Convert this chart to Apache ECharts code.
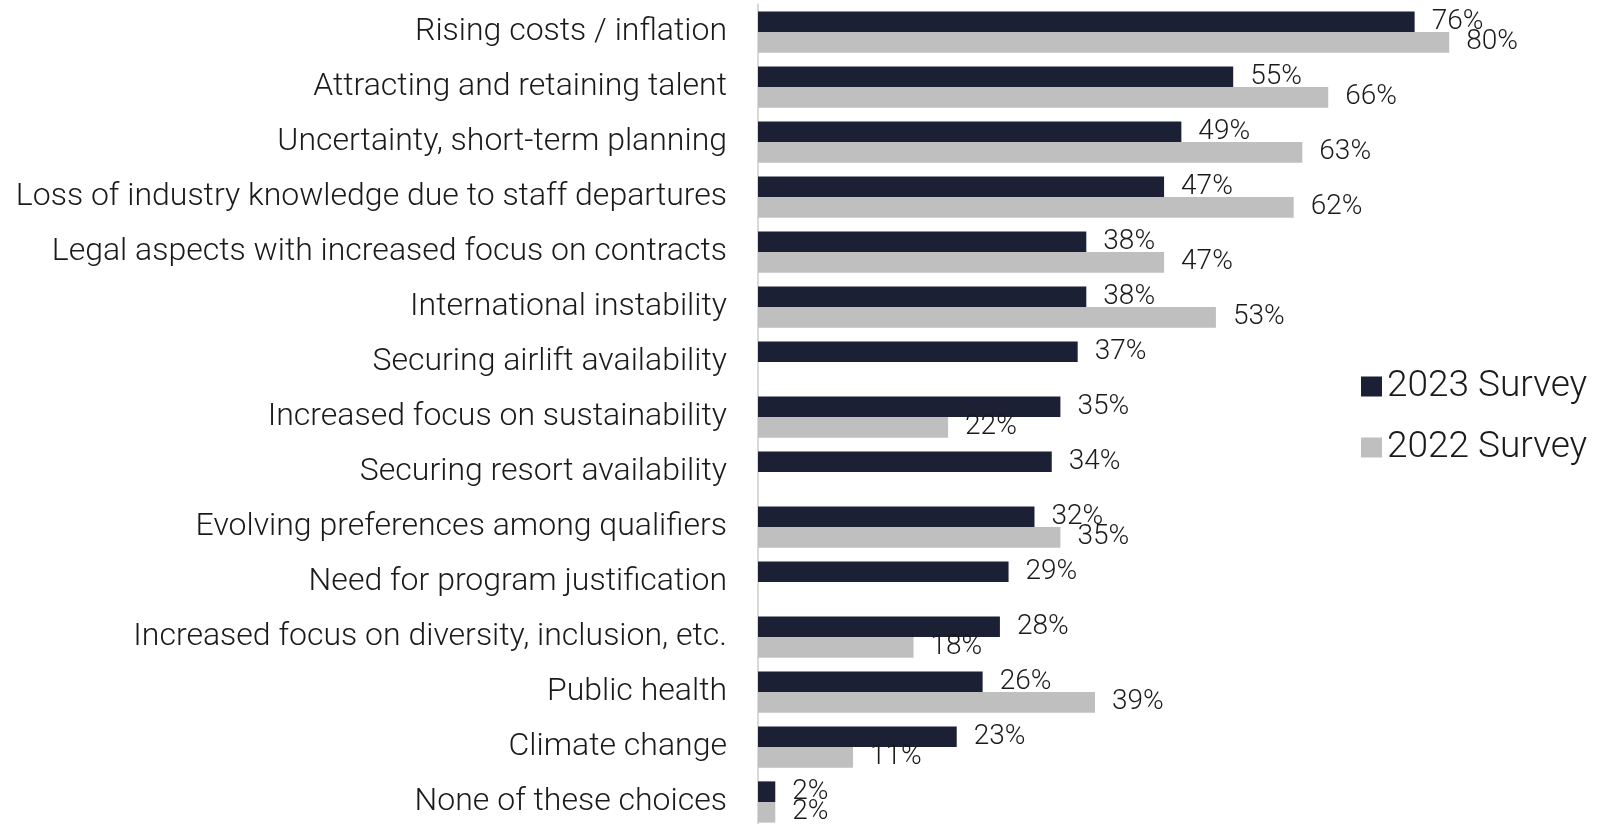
<!DOCTYPE html>
<html>
<head>
<meta charset="utf-8">
<script src="https://cdn.jsdelivr.net/npm/echarts@6/dist/echarts.min.js"></script>
<style>
  html, body { margin: 0; padding: 0; background: #fff; }
  #chart { width: 1615px; height: 824px; }
</style>
</head>
<body>
<div id="chart"></div>
<script>
// survey answers, top to bottom
var categories = [
  'Rising costs / inflation',
  'Attracting and retaining talent',
  'Uncertainty, short-term planning',
  'Loss of industry knowledge due to staff departures',
  'Legal aspects with increased focus on contracts',
  'International instability',
  'Securing airlift availability',
  'Increased focus on sustainability',
  'Securing resort availability',
  'Evolving preferences among qualifiers',
  'Need for program justification',
  'Increased focus on diversity, inclusion, etc.',
  'Public health',
  'Climate change',
  'None of these choices'
];
var survey2023 = [76, 55, 49, 47, 38, 38, 37, 35, 34, 32, 29, 28, 26, 23, 2];
var survey2022 = [80, 66, 63, 62, 47, 53, null, 22, null, 35, null, 18, 39, 11, 2];

var seriesNames = ['2023 Survey', '2022 Survey'];
var colors = ['#1b2034', '#bfbfbf'];

var FONT = 'Roboto';
var TEXT_COLOR = '#1a1a1a';

var chart = echarts.init(document.getElementById('chart'), null, { renderer: 'canvas' });

function makeSeries(name, data, color) {
  return {
    name: name,
    type: 'bar',
    data: data,
    barGap: '0%',
    barCategoryGap: '25%',
    itemStyle: { color: color },
    label: {
      show: true,
      position: 'right',
      distance: 17,
      formatter: function (p) { return p.value == null ? '' : p.value + '%'; },
      fontFamily: FONT,
      fontWeight: 300,
      fontSize: 28,
      color: TEXT_COLOR
    },
    emphasis: { disabled: true },
    animation: false
  };
}

var option = {
  backgroundColor: '#fff',
  textStyle: { fontFamily: FONT },
  // plot runs a little past the canvas edges, like the source
  grid: {
    left: 758,
    top: 4.5,
    width: 864,
    height: 825,
    containLabel: false,
    outerBoundsMode: 'none'
  },
  legend: {
    orient: 'vertical',
    left: 1356,
    top: 363,
    itemWidth: 21,
    itemHeight: 20,
    itemGap: 24,
    icon: 'rect',
    selectedMode: false,
    data: seriesNames,
    textStyle: {
      fontFamily: FONT,
      fontWeight: 300,
      fontSize: 37,
      color: TEXT_COLOR
    }
  },
  xAxis: {
    type: 'value',
    min: 0,
    max: 100,
    show: false
  },
  yAxis: {
    type: 'category',
    inverse: true,
    data: categories,
    axisLine: { show: true, lineStyle: { color: '#d9d9d9', width: 2 } },
    axisTick: { show: false },
    axisLabel: {
      margin: 31,
      padding: [4, 0, 0, 0],
      fontFamily: FONT,
      fontWeight: 300,
      fontSize: 32,
      color: TEXT_COLOR
    }
  },
  series: [
    makeSeries(seriesNames[0], survey2023, colors[0]),
    makeSeries(seriesNames[1], survey2022, colors[1])
  ]
};

chart.setOption(option);
</script>
</body>
</html>
